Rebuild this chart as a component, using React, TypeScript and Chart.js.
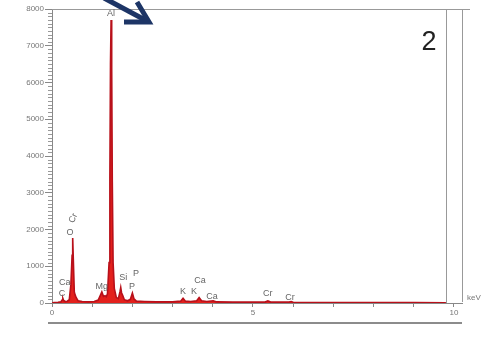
import React, { useEffect, useRef } from "react";
import { Chart, registerables } from "chart.js";

Chart.register(...registerables);

// Spectrum: energy (keV) and counts
const energyKeV = [
  0.0, 0.05, 0.15, 0.22, 0.25, 0.27, 0.29, 0.33, 0.38, 0.43, 0.47, 0.5, 0.515, 0.53, 0.555, 0.575, 0.6, 0.65,
  0.75, 0.9, 1.05, 1.15, 1.2, 1.24, 1.28, 1.32, 1.35, 1.38, 1.42, 1.44, 1.455, 1.47, 1.485, 1.5, 1.52, 1.55,
  1.6, 1.65, 1.69, 1.71, 1.73, 1.76, 1.8, 1.88, 1.95, 2.0, 2.04, 2.1, 2.3, 2.6, 3.0, 3.2, 3.26, 3.32, 3.45,
  3.6, 3.66, 3.72, 3.85, 4.01, 4.1, 4.5, 5.0, 5.3, 5.37, 5.44, 5.9, 5.95, 6.0, 7.0, 8.0, 9.0, 9.8,
];
const counts = [
  0, 10, 20, 30, 80, 130, 70, 40, 50, 90, 500, 1300, 1770, 1200, 300, 220, 150, 60,
  40, 30, 40, 80, 200, 300, 180, 200, 170, 250, 1100, 3400, 6500, 7700, 6400, 3300, 1100, 400,
  150, 120, 300, 420, 280, 200, 90, 60, 100, 270, 110, 50, 40, 30, 30, 50, 130, 50, 40,
  60, 150, 60, 40, 60, 30, 25, 25, 25, 55, 25, 25, 40, 20, 15, 12, 10, 8,
];

const xTickValues = [0, 1, 2, 3, 4, 5, 6, 7, 8, 9, 10];
const xTickLabels = ["0", "5", "10"];
const yTickLabels = ["0", "1000", "2000", "3000", "4000", "5000", "6000", "7000", "8000"];

// Peak labels: text, energy anchor, count anchor, rotation (deg)
const peakLabelTexts = ["Al", "Cr", "O", "Ca", "C", "Mg", "Si", "P", "P", "K", "K", "Ca", "Ca", "Cr", "Cr"];
const peakLabelEnergy = [1.47, 0.53, 0.45, 0.32, 0.25, 1.24, 1.77, 2.09, 1.99, 3.26, 3.53, 3.68, 3.98, 5.37, 5.92];
const peakLabelCount = [7890, 2310, 1930, 570, 270, 460, 680, 790, 435, 300, 300, 600, 190, 245, 160];
const peakLabelRotation = [0, -65, 0, 0, 0, 0, 0, 0, 0, 0, 0, 0, 0, 0, 0];

const FONT = "'Liberation Sans', Arial, sans-serif";

const overlayPlugin = {
  id: "overlay",
  afterDraw(chart: any) {
    const ctx = chart.ctx;
    const xs = chart.scales.x;
    const ys = chart.scales.y;
    const area = chart.chartArea;
    ctx.save();
    // minor y ticks
    ctx.strokeStyle = "#999";
    ctx.lineWidth = 1;
    for (let v = 0; v <= 8000; v += 100) {
      if (v % 1000 === 0) continue;
      const py = Math.round(ys.getPixelForValue(v)) + 0.5;
      ctx.beginPath();
      ctx.moveTo(area.left - 4, py);
      ctx.lineTo(area.left, py);
      ctx.stroke();
    }
    // frame lines
    ctx.strokeStyle = "#999";
    ctx.beginPath();
    ctx.moveTo(area.left, area.top + 0.5);
    ctx.lineTo(area.right + 8, area.top + 0.5);
    ctx.stroke();
    ctx.beginPath();
    ctx.moveTo(area.right + 0.5, area.top);
    ctx.lineTo(area.right + 0.5, area.bottom - 1);
    ctx.stroke();
    const cursorX = Math.round(xs.getPixelForValue(9.8)) + 0.5;
    ctx.beginPath();
    ctx.moveTo(cursorX, area.top);
    ctx.lineTo(cursorX, area.bottom);
    ctx.stroke();
    // bottom line
    ctx.strokeStyle = "#666";
    ctx.lineWidth = 1.5;
    ctx.beginPath();
    ctx.moveTo(area.left - 4, area.bottom + 20);
    ctx.lineTo(area.right, area.bottom + 20);
    ctx.stroke();
    // keV
    ctx.fillStyle = "#777";
    ctx.font = `8px ${FONT}`;
    ctx.textAlign = "left";
    ctx.textBaseline = "middle";
    ctx.fillText("keV", area.right + 5, area.bottom - 5);
    // peak labels
    ctx.fillStyle = "#666";
    ctx.font = `9px ${FONT}`;
    ctx.textAlign = "center";
    for (let i = 0; i < peakLabelTexts.length; i++) {
      const px = xs.getPixelForValue(peakLabelEnergy[i]);
      const py = ys.getPixelForValue(peakLabelCount[i]);
      ctx.save();
      ctx.translate(px, py);
      ctx.rotate((peakLabelRotation[i] * Math.PI) / 180);
      ctx.fillText(peakLabelTexts[i], 0, 0);
      ctx.restore();
    }
    // big "2"
    ctx.fillStyle = "#222";
    ctx.font = `27px ${FONT}`;
    ctx.textAlign = "center";
    ctx.fillText("2", 429, 43);
    // arrow
    ctx.strokeStyle = "#1d3566";
    ctx.lineWidth = 5;
    ctx.lineCap = "butt";
    ctx.lineJoin = "miter";
    ctx.beginPath();
    ctx.moveTo(104, -2);
    ctx.lineTo(147, 21);
    ctx.stroke();
    ctx.beginPath();
    ctx.moveTo(124, 22);
    ctx.lineTo(149, 22);
    ctx.lineTo(137, 2);
    ctx.stroke();
    ctx.restore();
  },
};

export default function App() {
  const ref = useRef<HTMLCanvasElement>(null);
  useEffect(() => {
    document.body.style.margin = "0";
    const canvas = ref.current!;
    const data = energyKeV.map((e, i) => ({ x: e, y: counts[i] }));
    const chart = new Chart(canvas, {
      type: "line",
      data: {
        datasets: [
          {
            data,
            borderColor: "#b8101a",
            backgroundColor: "#e3201c",
            borderWidth: 1.6,
            fill: "origin",
            pointRadius: 0,
            tension: 0,
          },
        ],
      },
      options: {
        responsive: false,
        animation: false,
        layout: { padding: { top: 9, right: 22, left: 0, bottom: 0 } },
        plugins: { legend: { display: false }, tooltip: { enabled: false } },
        scales: {
          x: {
            type: "linear",
            min: 0,
            max: 10.2,
            afterBuildTicks: (s: any) => {
              s.ticks = xTickValues.map((v) => ({ value: v }));
            },
            afterFit: (s: any) => {
              s.height = 39;
            },
            ticks: {
              autoSkip: false,
              maxRotation: 0,
              padding: 1,
              color: "#777",
              font: { size: 8, family: FONT },
              callback: (v: any) => {
                const idx = [0, 5, 10].indexOf(Number(v));
                return idx >= 0 ? xTickLabels[idx] : "";
              },
            },
            grid: { drawOnChartArea: false, tickLength: 4, color: "#888" },
            border: { color: "#888" },
          },
          y: {
            min: 0,
            max: 8000,
            afterBuildTicks: (s: any) => {
              s.ticks = yTickLabels.map((_, i) => ({ value: i * 1000 }));
            },
            afterFit: (s: any) => {
              s.width = 52;
            },
            ticks: {
              autoSkip: false,
              padding: 1,
              color: "#777",
              font: { size: 8, family: FONT },
              callback: (v: any) => yTickLabels[Math.round(Number(v) / 1000)] ?? "",
            },
            grid: { drawOnChartArea: false, tickLength: 7, color: "#888" },
            border: { color: "#888" },
          },
        },
      },
      plugins: [overlayPlugin],
    });
    return () => chart.destroy();
  }, []);
  return <canvas ref={ref} width={484} height={342} style={{ display: "block" }} />;
}
